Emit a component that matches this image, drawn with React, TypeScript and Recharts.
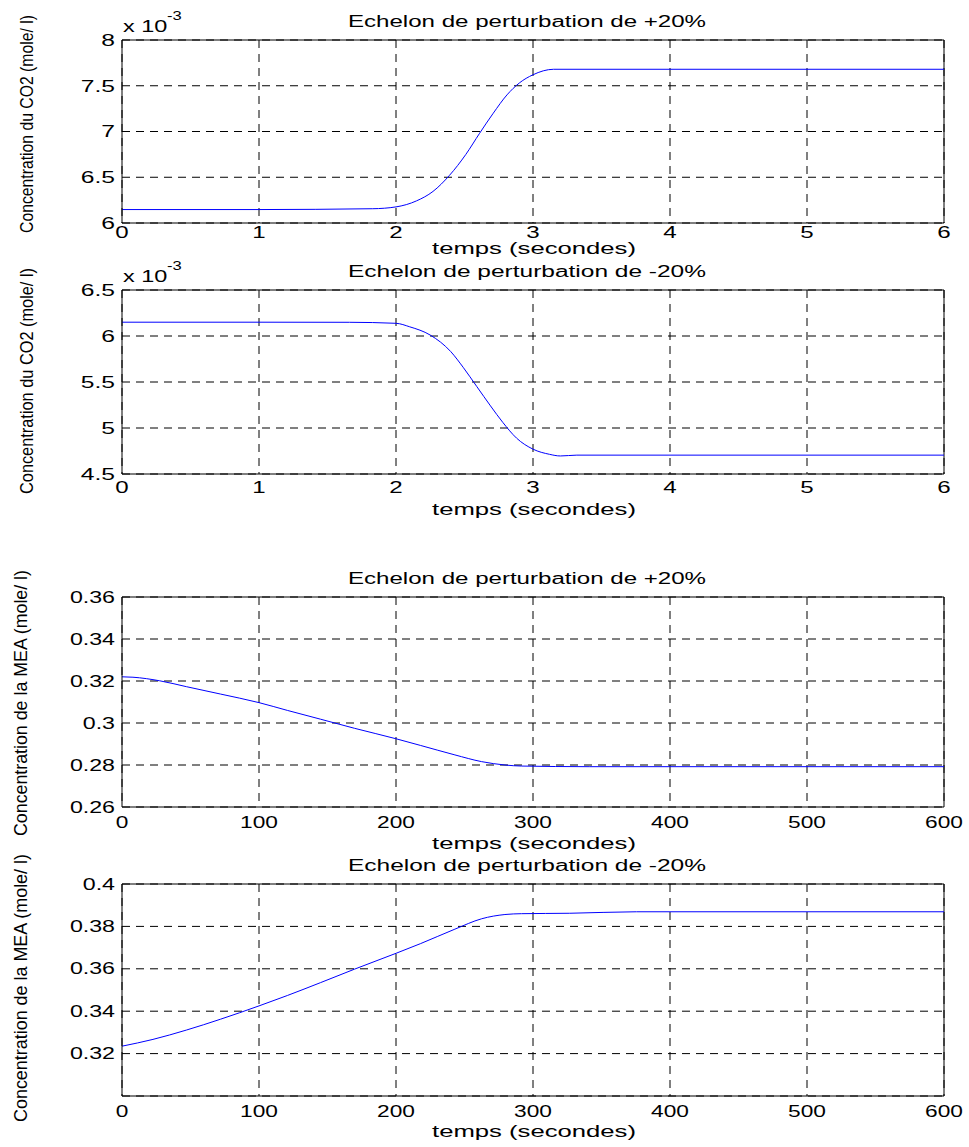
import { CartesianGrid, Line, LineChart, ReferenceLine, XAxis, YAxis } from "recharts";

const FONT = '"Liberation Sans", Arial, Helvetica, sans-serif';

// CO2, step +20 % (concentration in x10^-3 mol/l)
const co2UpTime = [0, 1, 1.83, 2.0, 2.15, 2.27, 2.39, 2.51, 2.61, 2.71, 2.81, 2.9, 3.0, 3.15, 4, 5, 6];
const co2UpConc = [6.147, 6.147, 6.156, 6.176, 6.242, 6.345, 6.52, 6.75, 6.98, 7.2, 7.4, 7.53, 7.62, 7.68, 7.68, 7.68, 7.68];

// CO2, step -20 %
const co2DownTime = [0, 1, 1.66, 2.0, 2.1, 2.25, 2.4, 2.49, 2.59, 2.69, 2.78, 2.88, 3.0, 3.12, 3.2, 3.32, 4, 5, 6];
const co2DownConc = [6.15, 6.15, 6.149, 6.138, 6.1, 6.01, 5.83, 5.66, 5.45, 5.24, 5.06, 4.89, 4.77, 4.714, 4.696, 4.705, 4.705, 4.705, 4.705];

// MEA, step +20 %
const meaUpTime = [0, 8, 27.5, 47, 71.8, 100, 120.7, 145, 169.6, 200, 218, 243, 262.5, 279.5, 291.7, 341, 400, 500, 600];
const meaUpConc = [0.322, 0.3218, 0.3201, 0.3173, 0.3138, 0.3097, 0.306, 0.3018, 0.2975, 0.2925, 0.2893, 0.2848, 0.2816, 0.28, 0.2795, 0.2792, 0.2792, 0.2792, 0.2792];

// MEA, step -20 %
const meaDownTime = [0, 22.6, 47, 71.8, 100, 120.7, 145, 169.6, 200, 218, 243, 262.5, 279.5, 291.7, 326.8, 375.5, 400, 500, 600];
const meaDownConc = [0.3235, 0.3267, 0.3311, 0.3362, 0.3425, 0.3474, 0.3535, 0.3598, 0.3673, 0.3719, 0.3787, 0.3836, 0.3856, 0.386, 0.3862, 0.3869, 0.3869, 0.3869, 0.3869];

const co2TimeTicks = [0, 1, 2, 3, 4, 5, 6];
const meaTimeTicks = [0, 100, 200, 300, 400, 500, 600];
const co2UpTicks = [6, 6.5, 7, 7.5, 8];
const co2DownTicks = [4.5, 5, 5.5, 6, 6.5];
const meaUpTicks = [0.26, 0.28, 0.3, 0.32, 0.34, 0.36];
const meaDownTicks = [0.32, 0.34, 0.36, 0.38, 0.4];

const toPoints = (t: number[], c: number[]) => t.map((x, i) => ({ t: x, c: c[i] }));
const fmt = (v: number) => String(parseFloat(v.toFixed(4)));

function XTick(props: any) {
  const { x, y, payload, fs } = props;
  return (
    <g transform={`translate(${x},${y}) scale(1.42,1)`}>
      <text textAnchor="middle" dy="0.71em" fontSize={fs} fontFamily={FONT} fill="#000">
        {fmt(payload.value)}
      </text>
    </g>
  );
}

function YTick(props: any) {
  const { x, y, payload, fs } = props;
  return (
    <g transform={`translate(${x},${y}) scale(1.45,1)`}>
      <text textAnchor="end" dy="0.35em" fontSize={fs} fontFamily={FONT} fill="#000">
        {fmt(payload.value)}
      </text>
    </g>
  );
}

type PanelProps = {
  top: number;
  height: number;
  marginTop: number;
  xAxisHeight: number;
  xGap: number;
  fs: number;
  data: { t: number; c: number }[];
  xTicks: number[];
  yDomain: [number, number];
  yTicks: number[];
};

function Panel(p: PanelProps) {
  const xMax = p.xTicks[p.xTicks.length - 1];
  return (
    <div style={{ position: "absolute", left: 0, top: p.top }}>
      <LineChart
        width={969}
        height={p.height}
        data={p.data}
        margin={{ top: p.marginTop, right: 25, bottom: 0, left: 8 }}
      >
        <CartesianGrid stroke="#000" strokeDasharray="8 6" />
        <XAxis
          dataKey="t"
          type="number"
          domain={[0, xMax]}
          ticks={p.xTicks}
          interval={0}
          height={p.xAxisHeight}
          stroke="#000"
          tickLine={false}
          tickSize={p.xGap}
          tickMargin={0}
          tick={(props: any) => <XTick {...props} fs={p.fs} />}
        />
        <YAxis
          type="number"
          domain={p.yDomain}
          ticks={p.yTicks}
          interval={0}
          width={114}
          stroke="#000"
          tickLine={false}
          tickSize={7}
          tickMargin={0}
          allowDataOverflow
          tick={(props: any) => <YTick {...props} fs={p.fs} />}
        />
        <ReferenceLine x={xMax} stroke="#000" />
        <ReferenceLine y={p.yDomain[1]} stroke="#000" />
        <Line
          dataKey="c"
          type="monotone"
          stroke="#0000ff"
          strokeWidth={1}
          dot={false}
          isAnimationActive={false}
        />
      </LineChart>
    </div>
  );
}

const titles = [
  { y: 27, text: "Echelon de perturbation de +20%" },
  { y: 277, text: "Echelon de perturbation de -20%" },
  { y: 584, text: "Echelon de perturbation de +20%" },
  { y: 871, text: "Echelon de perturbation de -20%" },
];
const xLabelY = [254, 515, 849, 1137];
const yLabels = [
  { x: 33, y: 124, len: 218, text: "Concentration du CO2 (mole/ l)" },
  { x: 33, y: 381, len: 226, text: "Concentration du CO2 (mole/ l)" },
  { x: 27, y: 703, len: 266, text: "Concentration de la MEA (mole/ l)" },
  { x: 27, y: 988, len: 268, text: "Concentration de la MEA (mole/ l)" },
];
const exponentY = [32, 282];

export default function App() {
  return (
    <div style={{ position: "absolute", left: 0, top: 0, width: 969, height: 1147, background: "#fff" }}>
      <Panel top={0} height={255} marginTop={40} xAxisHeight={32} xGap={3} fs={17}
        data={toPoints(co2UpTime, co2UpConc)} xTicks={co2TimeTicks} yDomain={[6, 8]} yTicks={co2UpTicks} />
      <Panel top={255} height={270} marginTop={35} xAxisHeight={51} xGap={7} fs={17}
        data={toPoints(co2DownTime, co2DownConc)} xTicks={co2TimeTicks} yDomain={[4.5, 6.5]} yTicks={co2DownTicks} />
      <Panel top={540} height={320} marginTop={57} xAxisHeight={53} xGap={10} fs={16}
        data={toPoints(meaUpTime, meaUpConc)} xTicks={meaTimeTicks} yDomain={[0.26, 0.36]} yTicks={meaUpTicks} />
      <Panel top={860} height={287} marginTop={24} xAxisHeight={51} xGap={10} fs={16}
        data={toPoints(meaDownTime, meaDownConc)} xTicks={meaTimeTicks} yDomain={[0.3, 0.4]} yTicks={meaDownTicks} />

      <svg width={969} height={1147} style={{ position: "absolute", left: 0, top: 0, pointerEvents: "none" }}>
        <g fontFamily={FONT} fill="#000">
          {titles.map((t, i) => (
            <text key={"t" + i} x={527} y={t.y} fontSize={16} textAnchor="middle" textLength={358} lengthAdjust="spacingAndGlyphs">
              {t.text}
            </text>
          ))}
          {xLabelY.map((y, i) => (
            <text key={"x" + i} x={534} y={y} fontSize={17} textAnchor="middle" textLength={204} lengthAdjust="spacingAndGlyphs">
              temps (secondes)
            </text>
          ))}
          {yLabels.map((l, i) => (
            <text key={"y" + i} transform={`translate(${l.x},${l.y}) rotate(-90)`} fontSize={18} textAnchor="middle"
              textLength={l.len} lengthAdjust="spacingAndGlyphs">
              {l.text}
            </text>
          ))}
          {exponentY.map((y, i) => (
            <g key={"e" + i}>
              <text transform={`translate(123,${y}) scale(1.38,1)`} fontSize={17}>x 10</text>
              <text transform={`translate(167,${y - 12}) scale(1.38,1)`} fontSize={12}>-3</text>
            </g>
          ))}
        </g>
      </svg>
    </div>
  );
}
